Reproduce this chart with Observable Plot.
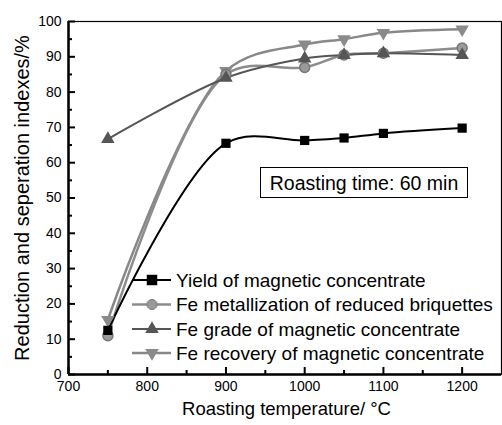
<!DOCTYPE html>
<html><head><meta charset="utf-8">
<script src="https://cdn.jsdelivr.net/npm/d3@7"></script>
<script src="https://cdn.jsdelivr.net/npm/@observablehq/plot@0.6"></script>
<style>
body{margin:0;background:#fff;font-family:"Liberation Sans",Arial,sans-serif}
#wrap{position:relative;width:502px;height:425px}
#wrap svg{display:block}
#overlay{position:absolute;left:0;top:0}
</style>
</head><body><div id="wrap"></div>
<script>
const temperatures = [750, 900, 1000, 1050, 1100, 1200];
const seriesNames = [
  "Yield of magnetic concentrate",
  "Fe metallization of reduced briquettes",
  "Fe grade of magnetic concentrate",
  "Fe recovery of magnetic concentrate"
];
const yieldValues = [12.5, 65.5, 66.3, 67.0, 68.3, 69.8];
const metallizationValues = [11.0, 85.0, 87.0, 90.5, 91.0, 92.5];
const gradeValues = [66.7, 84.0, 89.5, 90.5, 91.0, 90.5];
const recoveryValues = [15.5, 86.0, 93.5, 95.0, 96.8, 97.8];
const xTicks = [700, 800, 900, 1000, 1100, 1200];
const xMinorTicks = [750, 850, 950, 1050, 1150];
const yTicks = [0, 10, 20, 30, 40, 50, 60, 70, 80, 90, 100];
const yMinorTicks = [5, 15, 25, 35, 45, 55, 65, 75, 85, 95];
const annotation = "Roasting time: 60 min";
const xTitle = "Roasting temperature/ °C";
const yTitle = "Reduction and seperation indexes/%";

const styles = [
  {stroke: "#000", fill: "#000", symbol: "square", rotate: 0, width: 2},
  {stroke: "#8c8c8c", fill: "#9a9a9a", symbol: "circle", rotate: 0, width: 2.5},
  {stroke: "#555", fill: "#555", symbol: "triangle", rotate: 0, width: 2},
  {stroke: "#888", fill: "#8a8a8a", symbol: "triangle", rotate: 180, width: 2.5}
];
const valueSets = [yieldValues, metallizationValues, gradeValues, recoveryValues];
const series = seriesNames.map((name, i) => ({
  name, style: styles[i],
  data: temperatures.map((t, j) => ({x: t, y: valueSets[i][j]}))
}));

const marks = [];
[3, 1, 2, 0].forEach(i => {
  const s = series[i];
  marks.push(Plot.line(s.data, {x: "x", y: "y", curve: "catmull-rom", stroke: s.style.stroke, strokeWidth: s.style.width}));
});
[3, 1, 2, 0].forEach(i => {
  const s = series[i];
  marks.push(Plot.dot(s.data, {x: "x", y: "y", symbol: () => s.style.symbol, r: s.style.symbol === "square" ? 5.2 : 5, fill: s.style.fill, stroke: s.style.fill === "#9a9a9a" ? "#777" : "none", rotate: s.style.rotate}));
});

const chart = Plot.plot({
  width: 502, height: 425,
  marginLeft: 68, marginRight: 1, marginTop: 21, marginBottom: 51,
  style: {fontFamily: "'Liberation Sans', Arial, sans-serif", fontSize: "14px", color: "#000", background: "#fff", overflow: "visible"},
  x: {domain: [700, 1250]},
  y: {domain: [0, 100]},
  symbol: {type: "identity"},
  marks: [
    ...marks,
    Plot.axisX({ticks: xTicks, tickSize: 0, tickPadding: 7, label: null, tickFormat: d => String(d)}),
    Plot.axisX({ticks: xTicks, tickSize: -7, text: null, label: null, strokeWidth: 2}),
    Plot.axisX({ticks: xMinorTicks, tickSize: -4, text: null, label: null, strokeWidth: 2}),
    Plot.axisY({ticks: yTicks, tickSize: 0, tickPadding: 7, label: null, tickFormat: d => String(d)}),
    Plot.axisY({ticks: yTicks, tickSize: -7, text: null, label: null, strokeWidth: 2}),
    Plot.axisY({ticks: yMinorTicks, tickSize: -4, text: null, label: null, strokeWidth: 2}),
    Plot.frame({stroke: "#000", strokeWidth: 1.2}),
    Plot.ruleX([700], {strokeWidth: 2.5}),
    Plot.ruleY([0], {strokeWidth: 2.5}),
    Plot.text([yTitle], {frameAnchor: "left", textAnchor: "middle", lineAnchor: "middle", dx: -46, dy: 0, rotate: -90, fontSize: 20}),
    Plot.text([xTitle], {frameAnchor: "bottom", textAnchor: "middle", lineAnchor: "middle", dx: 1.5, dy: 35, fontSize: 18.5})
  ]
});
const wrap = document.getElementById("wrap");
wrap.appendChild(chart);

const ov = d3.select(wrap).append("svg").attr("id", "overlay").attr("width", 502).attr("height", 425)
  .style("font-family", "'Liberation Sans', Arial, sans-serif");
const box = ov.append("g");
box.append("rect").attr("x", 260.5).attr("y", 167.5).attr("width", 207).attr("height", 30)
  .attr("fill", "#fff").attr("stroke", "#000").attr("stroke-width", 1);
box.append("text").attr("x", 364).attr("y", 182.5).attr("dy", "0.36em").attr("text-anchor", "middle").attr("font-size", 19.5).text(annotation);

const symGen = {square: d3.symbolSquare, circle: d3.symbolCircle, triangle: d3.symbolTriangle};
const rowY = [280, 304.5, 329, 353];
series.forEach((s, i) => {
  const g = ov.append("g").attr("transform", `translate(0,${rowY[i]})`);
  g.append("line").attr("x1", 132).attr("x2", 171).attr("y1", 0).attr("y2", 0)
    .attr("stroke", s.style.stroke).attr("stroke-width", s.style.width);
  const size = s.style.symbol === "square" ? 110 : 80;
  g.append("path").attr("d", d3.symbol(symGen[s.style.symbol], size)())
    .attr("transform", `translate(152,0) rotate(${s.style.rotate})`)
    .attr("fill", s.style.fill).attr("stroke", s.style.fill === "#9a9a9a" ? "#777" : "none");
  g.append("text").attr("x", 176).attr("y", 0).attr("dy", "0.36em").attr("font-size", 19).text(s.name);
});
</script>
</body></html>
